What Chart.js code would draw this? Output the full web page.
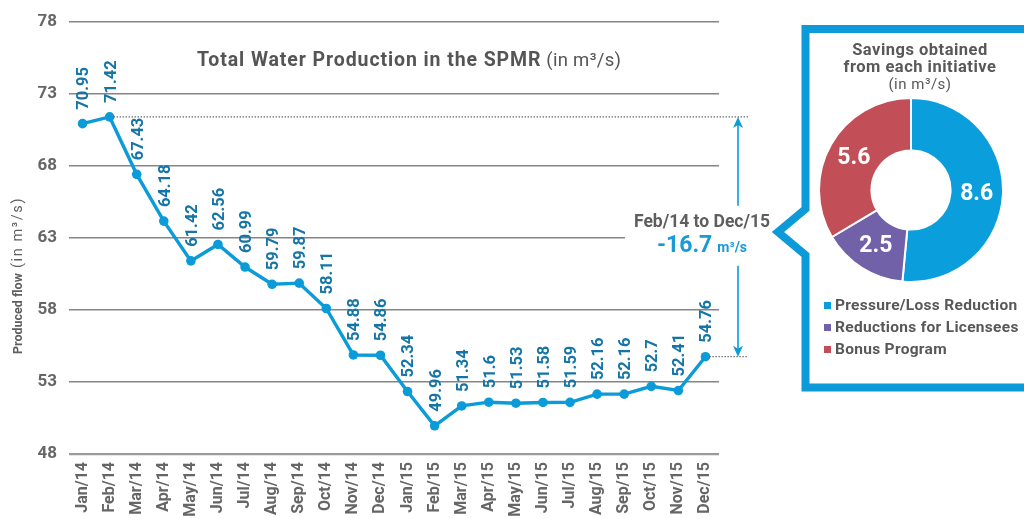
<!DOCTYPE html>
<html>
<head>
<meta charset="utf-8">
<script src="https://cdn.jsdelivr.net/npm/chart.js@4.4.1/dist/chart.umd.min.js"></script>
<style>
html,body{margin:0;padding:0;background:#fff;}
body{width:1024px;height:519px;position:relative;overflow:hidden;font-family:Roboto,"Noto Sans",sans-serif;}
#mainWrap{position:absolute;left:0;top:0;width:1024px;height:519px;}
#callout{position:absolute;left:0;top:0;}
#pieWrap{position:absolute;left:818px;top:97px;width:186px;height:186px;}
#boxTitle{position:absolute;left:820px;top:41px;width:200px;text-align:center;color:#585858;font-weight:700;font-size:16.5px;line-height:17px;letter-spacing:0.5px;}
#boxTitle .sub{font-weight:400;font-size:15px;}
#legend{position:absolute;left:824px;top:294px;width:200px;color:#585858;font-weight:700;font-size:15.5px;line-height:22px;white-space:nowrap;letter-spacing:0.3px;}
#legend .row{position:relative;height:22px;padding-left:11px;}
#legend .sq{position:absolute;left:0;top:8px;width:7px;height:7px;}
</style>
</head>
<body>
<svg id="callout" width="1024" height="519">
  <path d="M1030 29 L805.5 29 L805.5 209 L778 232 L805.5 255 L805.5 387.5 L1030 387.5" fill="none" stroke="#0d9ad8" stroke-width="8" stroke-linejoin="miter"/>
</svg>
<div id="mainWrap"><canvas id="main"></canvas></div>
<div id="boxTitle">Savings obtained<br>from each initiative<br><span class="sub">(in m³/s)</span></div>
<div id="pieWrap"><canvas id="pie"></canvas></div>
<div id="legend"></div>
<script>
// ---- data ----
const months = ["Jan/14","Feb/14","Mar/14","Apr/14","May/14","Jun/14","Jul/14","Aug/14","Sep/14","Oct/14","Nov/14","Dec/14",
                "Jan/15","Feb/15","Mar/15","Apr/15","May/15","Jun/15","Jul/15","Aug/15","Sep/15","Oct/15","Nov/15","Dec/15"];
const production = [70.95,71.42,67.43,64.18,61.42,62.56,60.99,59.79,59.87,58.11,54.88,54.86,
                    52.34,49.96,51.34,51.6,51.53,51.58,51.59,52.16,52.16,52.7,52.41,54.76];
const yTicks = [48,53,58,63,68,73,78];
const pieLabels = ["Pressure/Loss Reduction","Reductions for Licensees","Bonus Program"];
const pieValues = [8.6,2.5,5.6];
const pieColors = ["#0a9fdc","#7061a8","#c24f58"];
const compareFrom = "Feb/14";
const compareTo = "Dec/15";

const BLUE = "#0b9bd8";
const LABEL_BLUE = "#1475a6";
const GREY_TXT = "#666666";
const TITLE_TXT = "#555555";

const mainPlugin = {
  id: "mainDecor",
  beforeDatasetsDraw(chart) {
    const ctx = chart.ctx, ys = chart.scales.y, ca = chart.chartArea;
    ctx.save();
    ctx.fillStyle = "#fff";
    const y63 = ys.getPixelForValue(63);
    ctx.fillRect(ca.right - 94, y63 - 3, 100, 6);
    ctx.restore();
  },
  afterDatasetsDraw(chart) {
    const ctx = chart.ctx, ca = chart.chartArea;
    const meta = chart.getDatasetMeta(0);
    ctx.save();
    ctx.fillStyle = LABEL_BLUE;
    ctx.font = "700 16.5px Roboto";
    ctx.textAlign = "left";
    ctx.textBaseline = "alphabetic";
    meta.data.forEach((pt, i) => {
      ctx.save();
      ctx.translate(pt.x + 5.9, pt.y - 14);
      ctx.rotate(-Math.PI / 2);
      ctx.fillText(String(production[i]), 0, 0);
      ctx.restore();
    });
    ctx.restore();

    const i1 = months.indexOf(compareFrom), i2 = months.indexOf(compareTo);
    const p1 = meta.data[i1], p2 = meta.data[i2];
    const dotEnd = ca.right + 29, ax = ca.right + 19;
    ctx.save();
    ctx.strokeStyle = "#5e5e5e";
    ctx.lineWidth = 1.3;
    ctx.setLineDash([1.3, 1.7]);
    ctx.beginPath();
    ctx.moveTo(p1.x + 4, p1.y); ctx.lineTo(dotEnd, p1.y);
    ctx.moveTo(p2.x + 4, p2.y); ctx.lineTo(dotEnd, p2.y);
    ctx.stroke();
    ctx.setLineDash([]);
    const mid = (p1.y + p2.y) / 2;
    ctx.strokeStyle = BLUE; ctx.fillStyle = BLUE; ctx.lineWidth = 1.6;
    ctx.beginPath();
    ctx.moveTo(ax, p1.y + 4); ctx.lineTo(ax, mid - 31);
    ctx.moveTo(ax, mid + 29); ctx.lineTo(ax, p2.y - 4);
    ctx.stroke();
    ctx.beginPath();
    ctx.moveTo(ax, p1.y); ctx.lineTo(ax - 5, p1.y + 11); ctx.lineTo(ax, p1.y + 8); ctx.lineTo(ax + 5, p1.y + 11); ctx.closePath();
    ctx.moveTo(ax, p2.y); ctx.lineTo(ax - 5, p2.y - 11); ctx.lineTo(ax, p2.y - 8); ctx.lineTo(ax + 5, p2.y - 11); ctx.closePath();
    ctx.fill();
    const cx = ax - 36;
    ctx.textAlign = "center"; ctx.textBaseline = "alphabetic";
    ctx.fillStyle = "#5e5e5e";
    ctx.font = "700 17.5px Roboto";
    ctx.fillText(compareFrom + " to " + compareTo, cx, mid - 9.5);
    const diff = (production[i2] - production[i1]).toFixed(1);
    ctx.font = "700 23px Roboto";
    const wBig = ctx.measureText(diff).width;
    ctx.font = "700 14px Roboto";
    const wSmall = ctx.measureText("m³/s").width;
    const tot = wBig + 5 + wSmall;
    ctx.textAlign = "left";
    ctx.fillStyle = "#1a9ad7";
    ctx.font = "700 23px Roboto";
    ctx.fillText(diff, cx - tot / 2, mid + 15.5);
    ctx.font = "700 14px Roboto";
    ctx.fillText("m³/s", cx - tot / 2 + wBig + 5, mid + 15.5);
    ctx.restore();
  },
  afterDraw(chart) {
    const ctx = chart.ctx, ca = chart.chartArea;
    ctx.save();
    ctx.fillStyle = TITLE_TXT;
    ctx.textBaseline = "alphabetic";
    ctx.textAlign = "left";
    ctx.letterSpacing = "0.9px";
    ctx.font = "700 19.5px Roboto";
    const t1 = "Total Water Production in the SPMR";
    const w1 = ctx.measureText(t1).width;
    const tx = ca.left + 128;
    ctx.fillText(t1, tx, 66);
    ctx.letterSpacing = "0.3px";
    ctx.font = "400 18.5px Roboto";
    ctx.fillText(" (in m³/s)", tx + w1, 66);
    ctx.translate(22, 354);
    ctx.rotate(-Math.PI / 2);
    ctx.fillStyle = "#5e5e5e";
    ctx.letterSpacing = "0px";
    ctx.font = "700 12.5px Roboto";
    const yb = "Produced flow";
    const wy = ctx.measureText(yb).width;
    ctx.fillText(yb, 0, 0);
    ctx.letterSpacing = "1.6px";
    ctx.font = "400 14.5px Roboto";
    ctx.fillText(" (in m³/s)", wy, 0);
    ctx.restore();
  }
};

new Chart(document.getElementById("main"), {
  type: "line",
  data: {
    labels: months,
    datasets: [{
      data: production,
      borderColor: BLUE,
      backgroundColor: BLUE,
      borderWidth: 3.4,
      pointRadius: 4.8,
      pointBackgroundColor: BLUE,
      pointBorderWidth: 0,
      tension: 0,
      clip: false
    }]
  },
  options: {
    responsive: true,
    maintainAspectRatio: false,
    animation: false,
    events: [],
    layout: { padding: { top: 20, right: 305, left: 0, bottom: 0 } },
    plugins: { legend: { display: false }, tooltip: { enabled: false }, title: { display: false } },
    scales: {
      x: {
        offset: true,
        grid: { display: false, drawTicks: false },
        border: { display: false },
        ticks: {
          autoSkip: false, minRotation: 90, maxRotation: 90, padding: 8,
          color: GREY_TXT, font: { family: "Roboto", weight: "700", size: 16 }
        },
        afterFit(s) { s.height = 65; }
      },
      y: {
        min: 48, max: 78,
        afterBuildTicks(s) { s.ticks = yTicks.map(v => ({ value: v })); },
        afterFit(s) { s.width = 69; },
        grid: {
          drawTicks: false,
          color: ctx => ctx.tick && ctx.tick.value === 48 ? "#9a9a9a" : "#858585",
          lineWidth: ctx => ctx.tick && ctx.tick.value === 48 ? 2.2 : 1.5
        },
        border: { display: false },
        ticks: {
          padding: 12, color: GREY_TXT,
          font: { family: "Roboto", weight: "700", size: 17 }
        }
      }
    }
  },
  plugins: [mainPlugin]
});

const pieLabelPlugin = {
  id: "pieLabels",
  afterDatasetsDraw(chart) {
    const ctx = chart.ctx;
    const meta = chart.getDatasetMeta(0);
    ctx.save();
    ctx.fillStyle = "#fff";
    ctx.font = "700 23px Roboto";
    ctx.textAlign = "center";
    ctx.textBaseline = "middle";
    meta.data.forEach((arc, i) => {
      const p = arc.getCenterPoint();
      ctx.fillText(String(pieValues[i]), p.x, p.y + 1);
    });
    ctx.restore();
  }
};

new Chart(document.getElementById("pie"), {
  type: "doughnut",
  data: {
    labels: pieLabels,
    datasets: [{ data: pieValues, backgroundColor: pieColors, borderColor: "#fff", borderWidth: 2 }]
  },
  options: {
    responsive: true,
    maintainAspectRatio: false,
    animation: false,
    events: [],
    cutout: "43%",
    layout: { padding: 0 },
    plugins: { legend: { display: false }, tooltip: { enabled: false } }
  },
  plugins: [pieLabelPlugin]
});

const lg = document.getElementById("legend");
pieLabels.forEach((l, i) => {
  const row = document.createElement("div");
  row.className = "row";
  const sq = document.createElement("span");
  sq.className = "sq";
  sq.style.background = pieColors[i];
  row.appendChild(sq);
  row.appendChild(document.createTextNode(l));
  lg.appendChild(row);
});
</script>
</body>
</html>
